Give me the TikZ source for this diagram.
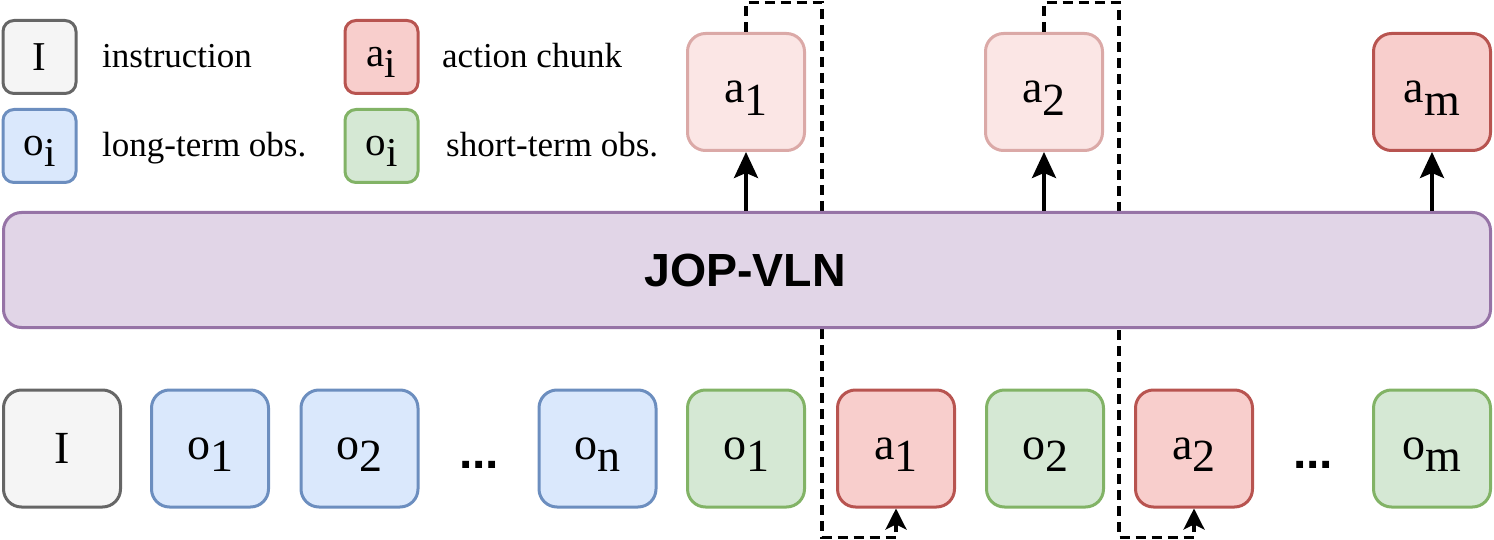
\documentclass[tikz,border=0pt]{standalone}
\usepackage{fontspec}
\setmainfont{Liberation Serif}
\newfontfamily\jopfont{Liberation Sans}
\usetikzlibrary{arrows.meta}
\definecolor{grayfill}{HTML}{F5F5F5}
\definecolor{graystroke}{HTML}{666666}
\definecolor{bluefill}{HTML}{DAE8FC}
\definecolor{bluestroke}{HTML}{6C8EBF}
\definecolor{greenfill}{HTML}{D5E8D4}
\definecolor{greenstroke}{HTML}{82B366}
\definecolor{redfill}{HTML}{F8CECC}
\definecolor{redstroke}{HTML}{B85450}
\definecolor{lredfill}{HTML}{FBE6E5}
\definecolor{lredstroke}{HTML}{DBA9A7}
\definecolor{purplefill}{HTML}{E1D5E7}
\definecolor{purplestroke}{HTML}{9673A6}
\newcommand\sbs[2]{#1\raisebox{-0.28em}[0pt][0pt]{#2}}
\tikzset{
  bigbox/.style={rounded corners=18pt, line width=3pt, minimum width=117pt, minimum height=117pt, inner sep=0pt, font=\fontsize{46}{50}\selectfont},
  legbox/.style={rounded corners=11pt, line width=3pt, minimum width=73pt, minimum height=73pt, inner sep=0pt, font=\fontsize{41}{44}\selectfont},
  gbox/.style={fill=grayfill, draw=graystroke},
  bbox/.style={fill=bluefill, draw=bluestroke},
  grbox/.style={fill=greenfill, draw=greenstroke},
  rbox/.style={fill=redfill, draw=redstroke},
  lrbox/.style={fill=lredfill, draw=lredstroke},
  legtext/.style={anchor=base west, inner sep=0pt, font=\fontsize{35}{40}\selectfont},
  dots/.style={anchor=base, inner sep=0pt, font=\jopfont\bfseries\fontsize{48}{50}\selectfont},
  tipbig/.tip={Stealth[length=26pt 0, width=24pt 0, inset=5pt]},
  tipsmall/.tip={Stealth[length=21pt 0, width=21pt 0, inset=5pt]},
  solidarrow/.style={line width=3.5pt, -tipbig},
  dashline/.style={line width=3.5pt, dash pattern=on 10pt off 6pt, -tipsmall},
}
\begin{document}
\begin{tikzpicture}[x=1pt,y=-1pt]
\useasboundingbox (0,0) rectangle (1494,540);
% top row nodes
\node[bigbox,lrbox] (ta1) at (746,92) {\sbs{a}{1}};
\node[bigbox,lrbox] (ta2) at (1044,92) {\sbs{a}{2}};
\node[bigbox,rbox] (tam) at (1432,92) {\sbs{a}{m}};
% bottom row nodes
\node[bigbox,gbox] (bI) at (62,448.5) {I};
\node[bigbox,bbox] (bo1) at (210,448.5) {\sbs{o}{1}};
\node[bigbox,bbox] (bo2) at (359.5,448.5) {\sbs{o}{2}};
\node[dots] (bd1) at (479,468) {...};
\node[bigbox,bbox] (bon) at (597.5,448.5) {\sbs{o}{n}};
\node[bigbox,grbox] (bg1) at (746,448.5) {\sbs{o}{1}};
\node[bigbox,rbox] (ba1) at (896,448.5) {\sbs{a}{1}};
\node[bigbox,grbox] (bg2) at (1045,448.5) {\sbs{o}{2}};
\node[bigbox,rbox] (ba2) at (1194,448.5) {\sbs{a}{2}};
\node[dots] (bd2) at (1313,468) {...};
\node[bigbox,grbox] (bgm) at (1432,448.5) {\sbs{o}{m}};
% dashed feedback paths (behind main box)
\coordinate (d1a) at (746,2.5);
\coordinate (d1b) at (822,2.5);
\coordinate (d1c) at (822,537.5);
\coordinate (d1d) at (896,537.5);
\draw[dashline] (ta1.north) -- (d1a) -- (d1b) -- (d1c) -- (d1d) -- (ba1.south);
\coordinate (d2a) at (1044,2.5);
\coordinate (d2b) at (1119,2.5);
\coordinate (d2c) at (1119,537.5);
\coordinate (d2d) at (1194,537.5);
\draw[dashline] (ta2.north) -- (d2a) -- (d2b) -- (d2c) -- (d2d) -- (ba2.south);
% main box
\node[rounded corners=18pt, line width=3pt, fill=purplefill, draw=purplestroke, minimum width=1487pt, minimum height=115pt, inner sep=0pt] (jop) at (747,270) {};
\node[anchor=base, inner sep=0pt, font=\jopfont\bfseries\fontsize{46.5}{50}\selectfont] (joptext) at (745,287) {JOP-VLN};
% arrows up
\coordinate (s1) at (746,211);
\coordinate (s2) at (1044,211);
\coordinate (s3) at (1432,211);
\draw[solidarrow] (s1) -- (ta1.south);
\draw[solidarrow] (s2) -- (ta2.south);
\draw[solidarrow] (s3) -- (tam.south);
% legend
\node[legbox,gbox] (lI) at (39.5,57) {I};
\node[legtext] (lIt) at (102,68) {instruction};
\node[legbox,rbox] (la) at (381.5,57) {\sbs{a}{i}};
\node[legtext] (lat) at (442,68) {action chunk};
\node[legbox,bbox] (lo) at (39.5,146) {\sbs{o}{i}};
\node[legtext] (lot) at (102,157) {long-term obs.};
\node[legbox,grbox] (lg) at (381.5,146) {\sbs{o}{i}};
\node[legtext] (lgt) at (446,157) {short-term obs.};
\end{tikzpicture}
\end{document}
